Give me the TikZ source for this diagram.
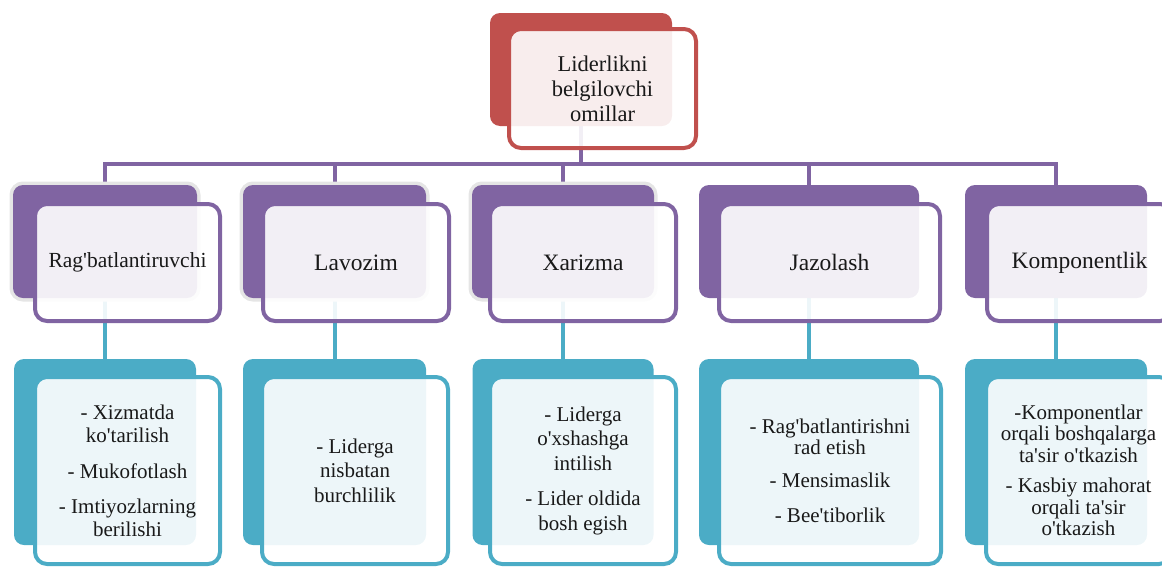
\documentclass[tikz,border=0pt]{standalone}
\usepackage{fontspec}
\setmainfont{Liberation Serif}[Ligatures=TeXOff]
\definecolor{redA}{HTML}{C0504D}
\definecolor{purA}{HTML}{8064A2}
\definecolor{tealA}{HTML}{4BACC6}
\pgfdeclarelayer{bg}
\pgfsetlayers{bg,main}
\begin{document}
\begin{tikzpicture}[x=1pt,y=-1pt,
  back/.style={rectangle, inner sep=0pt, rounded corners=10pt, fill=#1},
  halo/.style={preaction={draw=black!10, line width=7pt}},
  front/.style={rectangle, inner sep=0pt, rounded corners=12pt, draw=#1,
    line width=4pt, fill=white, fill opacity=0.9, text opacity=1,
    align=center, text=black!90},
  link/.style={draw=#1, line width=4pt},
  headfont/.style={font=\fontsize{23.5}{26}\selectfont},
  itemfont/.style={font=\fontsize{21}{#1}\selectfont},
]
\useasboundingbox (0,0) rectangle (1162,568);

% root
\node[back=redA, minimum width=182, minimum height=113] (top) at (581,69.5) {};
\node[front=redA, minimum width=187, minimum height=119,
  font=\fontsize{22.5}{25}\selectfont] (topf) at (602.5,88.5)
  {Liderlikni\\belgilovchi\\omillar};

% factor row
\node[back=purA, halo, minimum width=184, minimum height=113] (b1) at (105,241.5) {};
\node[back=purA, halo, minimum width=183, minimum height=113] (b2) at (334.5,241.5) {};
\node[back=purA, halo, minimum width=182, minimum height=113] (b3) at (563,241.5) {};
\node[back=purA, minimum width=220, minimum height=113] (b4) at (809,241.5) {};
\node[back=purA, minimum width=182, minimum height=113] (b5) at (1056,241.5) {};

\node[front=purA, minimum width=185, minimum height=117,
  font=\fontsize{21.5}{24}\selectfont] (f1) at (127.5,262.5) {Rag'batlantiruvchi};
\node[front=purA, minimum width=186, minimum height=117, headfont] (f2) at (356,262.5) {Lavozim};
\node[front=purA, minimum width=186, minimum height=117, headfont] (f3) at (583,262.5) {Xarizma};
\node[front=purA, minimum width=221, minimum height=117, headfont] (f4) at (829.5,262.5) {Jazolash};
\node[front=purA, minimum width=185, minimum height=117, headfont] (f5) at (1079.5,262.5) {Komponentlik};

% detail row
\node[back=tealA, minimum width=182, minimum height=186] (c1) at (105,452) {};
\node[back=tealA, minimum width=183, minimum height=186] (c2) at (334.5,452) {};
\node[back=tealA, minimum width=181, minimum height=186] (c3) at (563,452) {};
\node[back=tealA, minimum width=220, minimum height=186] (c4) at (809,452) {};
\node[back=tealA, minimum width=182, minimum height=186] (c5) at (1056,452) {};

\node[front=tealA, minimum width=185, minimum height=187, itemfont=23] (d1) at (127.5,470.5)
  {- Xizmatda\\ko'tarilish\\[13pt]- Mukofotlash\\[12pt]- Imtiyozlarning\\berilishi};
\node[front=tealA, minimum width=186, minimum height=187, itemfont=24.5] (d2) at (355,470.5)
  {- Liderga\\nisbatan\\burchlilik};
\node[front=tealA, minimum width=186, minimum height=187, itemfont=24.5] (d3) at (583,470.5)
  {- Liderga\\o'xshashga\\intilish\\[11pt]- Lider oldida\\bosh egish};
\node[front=tealA, minimum width=222, minimum height=187, itemfont=21] (d4) at (830,470.5)
  {- Rag'batlantirishni\\rad etish\\[12pt]- Mensimaslik\\[14pt]- Bee'tiborlik};
\node[front=tealA, minimum width=185, minimum height=187, itemfont=21.5] (d5) at (1078.5,470.5)
  {-Komponentlar\\orqali boshqalarga\\ta'sir o'tkazish\\[9pt]- Kasbiy mahorat\\orqali ta'sir\\o'tkazish};

% connectors behind the boxes
\begin{pgfonlayer}{bg}
\coordinate (bus) at (0,164);
\draw[link=purA] (top.south) -- (top.south |- bus);
\draw[link=purA] (b1.north) -- (b1.north |- bus) -- (b5.north |- bus) -- (b5.north);
\foreach \k in {2,3,4}{
  \draw[link=purA] (b\k.north) -- (b\k.north |- bus);
}
\foreach \k in {1,...,5}{
  \draw[link=tealA] (b\k.south) -- (c\k.north);
}
\end{pgfonlayer}
\end{tikzpicture}
\end{document}
